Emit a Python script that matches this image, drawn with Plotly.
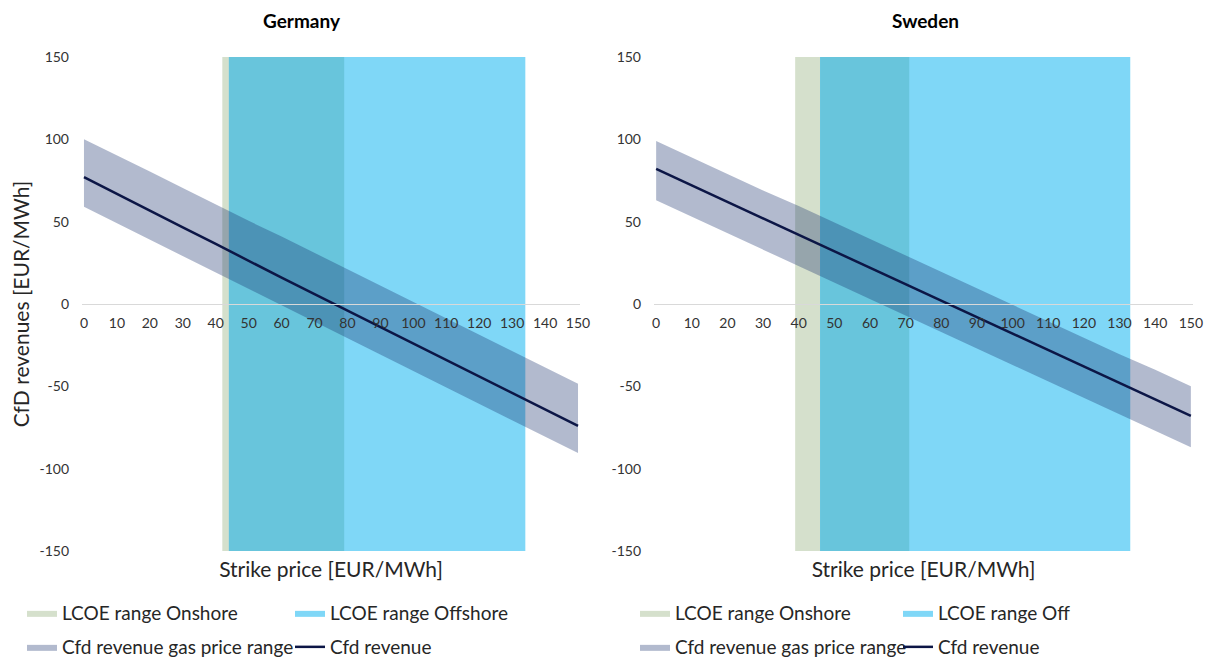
import plotly.graph_objects as go

# ---------------- data ----------------
STRIKE = [0, 10, 20, 30, 40, 50, 60, 70, 80, 90, 100, 110, 120, 130, 140, 150]

DE_CFD = [77, 67, 57, 46.5, 36.5, 26.5, 16, 6, -4, -14, -24, -34, -44, -54, -64, -74]
DE_GAS_HIGH = [100, 90, 80.5, 70.5, 60.5, 50.5, 41, 31, 21, 11, 1.5, -8.5, -18.5, -28.5, -38.5, -48.5]
DE_GAS_LOW = [59, 49, 39, 29, 19, 9.5, -0.5, -10.5, -20.5, -30.5, -40.5, -50.5, -60.5, -70.5, -80.5, -90.5]
DE_ONSHORE = [42, 79]
DE_OFFSHORE = [44, 134]

SE_CFD = [82, 72, 62, 52, 42, 32, 22, 12, 2, -8, -18, -28, -38, -48, -58, -68]
SE_GAS_HIGH = [99, 89, 79, 69, 59.5, 49.5, 39.5, 29.5, 19.5, 9.5, -0.5, -10.5, -20.5, -30.5, -40, -50]
SE_GAS_LOW = [63, 53, 43, 33, 23, 13, 3, -7, -17, -27, -37, -47, -57, -67, -77, -87]
SE_ONSHORE = [39, 71]
SE_OFFSHORE = [46, 133]

Y_TICKS = [150, 100, 50, 0, -50, -100, -150]
X_TICKS = [0, 10, 20, 30, 40, 50, 60, 70, 80, 90, 100, 110, 120, 130, 140, 150]
Y_MIN, Y_MAX = -150, 150

# ---------------- style ----------------
FONT = "Lato"
C_ONSHORE = "#D5E0CC"
C_OFFSHORE = "#7FD7F7"
C_OVERLAP = "#68C5DC"
C_BAND = "rgba(20,45,105,0.33)"
C_LINE = "#0C1646"
C_TEXT = "#262626"
C_TICK = "#333333"

W, H = 1210, 657


def px_x(p):
    return p / W


def px_y(p):
    return 1 - p / H


def rect(lo, hi, color, name, xa, ya, legend, show=True):
    return go.Scatter(
        x=[lo, hi, hi, lo, lo], y=[Y_MIN, Y_MIN, Y_MAX, Y_MAX, Y_MIN],
        mode="lines", line=dict(width=0, color=color), fill="toself",
        fillcolor=color, name=name, showlegend=show, legend=legend,
        xaxis=xa, yaxis=ya, hoverinfo="skip",
    )


fig = go.Figure()


def add_country(xa, xa_zero, ya, onshore, offshore, high, low, cfd, leg_a, leg_b, off_label):
    fig.add_trace(rect(onshore[0], onshore[1], C_ONSHORE, "LCOE range Onshore", xa, ya, leg_a))
    fig.add_trace(rect(offshore[0], offshore[1], C_OFFSHORE, off_label, xa, ya, leg_a))
    lo, hi = max(onshore[0], offshore[0]), min(onshore[1], offshore[1])
    if hi > lo:
        fig.add_trace(rect(lo, hi, C_OVERLAP, "overlap", xa, ya, leg_a, show=False))
    fig.add_trace(go.Scatter(
        x=STRIKE + STRIKE[::-1], y=high + low[::-1], mode="lines",
        line=dict(width=0, color=C_BAND), fill="toself", fillcolor=C_BAND,
        name="Cfd revenue gas price range", legend=leg_b,
        xaxis=xa, yaxis=ya, hoverinfo="skip",
    ))
    # the revenue line sits on the overlay axis that carries the tick labels at y = 0
    fig.add_trace(go.Scatter(
        x=STRIKE, y=cfd, mode="lines", line=dict(width=2.5, color=C_LINE),
        name="Cfd revenue", legend=leg_b, xaxis=xa_zero, yaxis=ya,
    ))


add_country("x", "x3", "y", DE_ONSHORE, DE_OFFSHORE, DE_GAS_HIGH, DE_GAS_LOW, DE_CFD,
            "legend", "legend2", "LCOE range Offshore")
add_country("x2", "x4", "y2", SE_ONSHORE, SE_OFFSHORE, SE_GAS_HIGH, SE_GAS_LOW, SE_CFD,
            "legend3", "legend4", "LCOE range Off")

X_RANGE = [-0.6, 150.6]
DOM_DE = [px_x(82), px_x(580)]
DOM_SE = [px_x(654), px_x(1193)]
DOM_Y = [px_y(551), px_y(57)]
ZERO_POS = px_y(304)

tick_font = dict(family=FONT, size=14, color=C_TICK)
title_font = dict(family=FONT, size=21, color=C_TEXT)


def bottom_axis(domain, anchor):
    return dict(
        domain=domain, range=X_RANGE, anchor=anchor, showticklabels=False,
        showgrid=False, zeroline=False, showline=False, ticks="",
        title=dict(text="Strike price [EUR/MWh]", font=title_font, standoff=11),
    )


def zero_axis(domain, overlay):
    return dict(
        domain=domain, range=X_RANGE, overlaying=overlay, anchor="free",
        position=ZERO_POS, tickvals=X_TICKS, ticktext=[str(v) for v in X_TICKS],
        tickfont=tick_font, showgrid=False, zeroline=False, showline=True,
        linecolor="#D9D9D9", linewidth=1, ticks="", ticklabelstandoff=6,
        layer="above traces",
    )


def y_axis(anchor, title=None):
    d = dict(
        domain=DOM_Y, range=[Y_MIN, Y_MAX], anchor=anchor, tickvals=Y_TICKS,
        ticktext=[str(v) for v in Y_TICKS],
        tickfont=tick_font, showgrid=False, zeroline=False, showline=False,
        ticks="", ticklabelstandoff=12,
    )
    if title:
        d["title"] = dict(text=title, font=title_font, standoff=4)
    return d


def legend_row(x_px, y_px, entry):
    return dict(
        orientation="h", x=px_x(x_px), xanchor="left", y=px_y(y_px),
        yanchor="middle", entrywidth=entry, entrywidthmode="pixels",
        font=dict(family=FONT, size=19, color=C_TEXT), bgcolor="rgba(0,0,0,0)",
        itemclick=False, itemdoubleclick=False,
    )


fig.update_layout(
    width=W, height=H, template="none",
    margin=dict(l=0, r=0, t=0, b=0, autoexpand=False),
    paper_bgcolor="white", plot_bgcolor="rgba(0,0,0,0)",
    font=dict(family=FONT, color=C_TEXT),
    xaxis=bottom_axis(DOM_DE, "y"),
    xaxis2=bottom_axis(DOM_SE, "y2"),
    xaxis3=zero_axis(DOM_DE, "x"),
    xaxis4=zero_axis(DOM_SE, "x2"),
    yaxis=y_axis("x", "CfD revenues [EUR/MWh]"),
    yaxis2=y_axis("x2"),
    legend=legend_row(22, 613, 223),
    legend2=legend_row(22, 647, 223),
    legend3=legend_row(635, 613, 218),
    legend4=legend_row(635, 647, 218),
    annotations=[
        dict(text="<b>Germany</b>", x=px_x(302), y=px_y(20), xref="paper", yref="paper",
             showarrow=False, font=dict(family=FONT, size=19, color="#000000"),
             xanchor="center", yanchor="middle"),
        dict(text="<b>Sweden</b>", x=px_x(925), y=px_y(20), xref="paper", yref="paper",
             showarrow=False, font=dict(family=FONT, size=19, color="#000000"),
             xanchor="center", yanchor="middle"),
    ],
)

fig.write_html("out.html")
